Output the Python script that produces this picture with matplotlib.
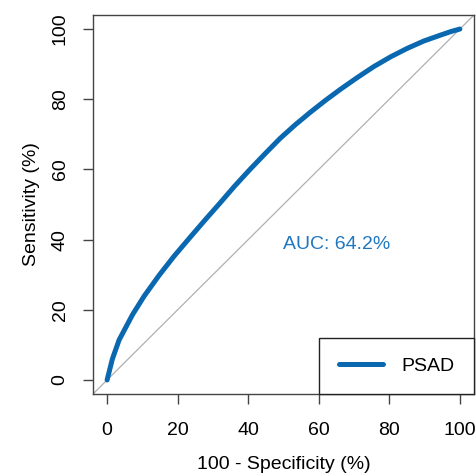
import matplotlib
matplotlib.use('Agg')
import matplotlib.pyplot as plt

plt.rcParams['font.family'] = ['Liberation Sans', 'DejaVu Sans']

# ROC curve for PSAD
fpr = [0, 1.5, 3.4, 7.2, 10.5, 14.8, 19.0, 23.4, 27.6, 31.9, 36.2, 40.5,
       44.8, 49.0, 53.2, 57.5, 61.8, 66.1, 70.8, 75.6, 80.4, 85.1, 89.8,
       94.6, 97.5, 100]
tpr = [0, 6.0, 11.4, 18.6, 23.9, 29.9, 35.3, 40.5, 45.4, 50.3, 55.3, 60.0,
       64.5, 68.8, 72.6, 76.2, 79.6, 82.8, 86.1, 89.3, 92.1, 94.5, 96.6,
       98.3, 99.3, 100]
ticks = [0, 20, 40, 60, 80, 100]
auc_label = 'AUC: 64.2%'
series_name = 'PSAD'

curve_color = '#0a68b0'
text_color = '#2077c0'
frame_color = '#444444'

fig = plt.figure(figsize=(4.76, 4.75), dpi=100)
ax = fig.add_axes([93 / 476, 1 - 394 / 475, 381 / 476, 379 / 475])

# chance diagonal
ax.plot([-4, 104], [-4, 104], color='#b0b0b0', lw=0.9, zorder=1)
ax.plot(fpr, tpr, color=curve_color, lw=3.6, solid_capstyle='round',
        solid_joinstyle='round', label=series_name, zorder=2)

ax.text(65, 38.5, auc_label, color=text_color, fontsize=14,
        ha='center', va='center')

ax.set_xlim(-4, 104)
ax.set_ylim(-4, 104)
ax.set_xticks(ticks)
ax.set_yticks(ticks)
ax.set_yticklabels([str(t) for t in ticks], rotation=90, va='center')
ax.tick_params(axis='both', direction='out', length=7.5, width=1,
               color=frame_color, labelsize=14)
ax.tick_params(axis='x', pad=12.5)
ax.tick_params(axis='y', pad=10)
for s in ax.spines.values():
    s.set_color(frame_color)
    s.set_linewidth(1)

ax.set_xlabel('100 - Specificity (%)', fontsize=14, labelpad=12.5)
ax.set_ylabel('Sensitivity (%)', fontsize=14, labelpad=8.5)

leg = ax.legend(loc='lower right', borderaxespad=0, fancybox=False,
                framealpha=1, edgecolor='#222222', fontsize=14,
                handlelength=2.3, handletextpad=0.93, borderpad=1.0)
leg.get_frame().set_linewidth(1)

fig.savefig('out.png', dpi=100)
